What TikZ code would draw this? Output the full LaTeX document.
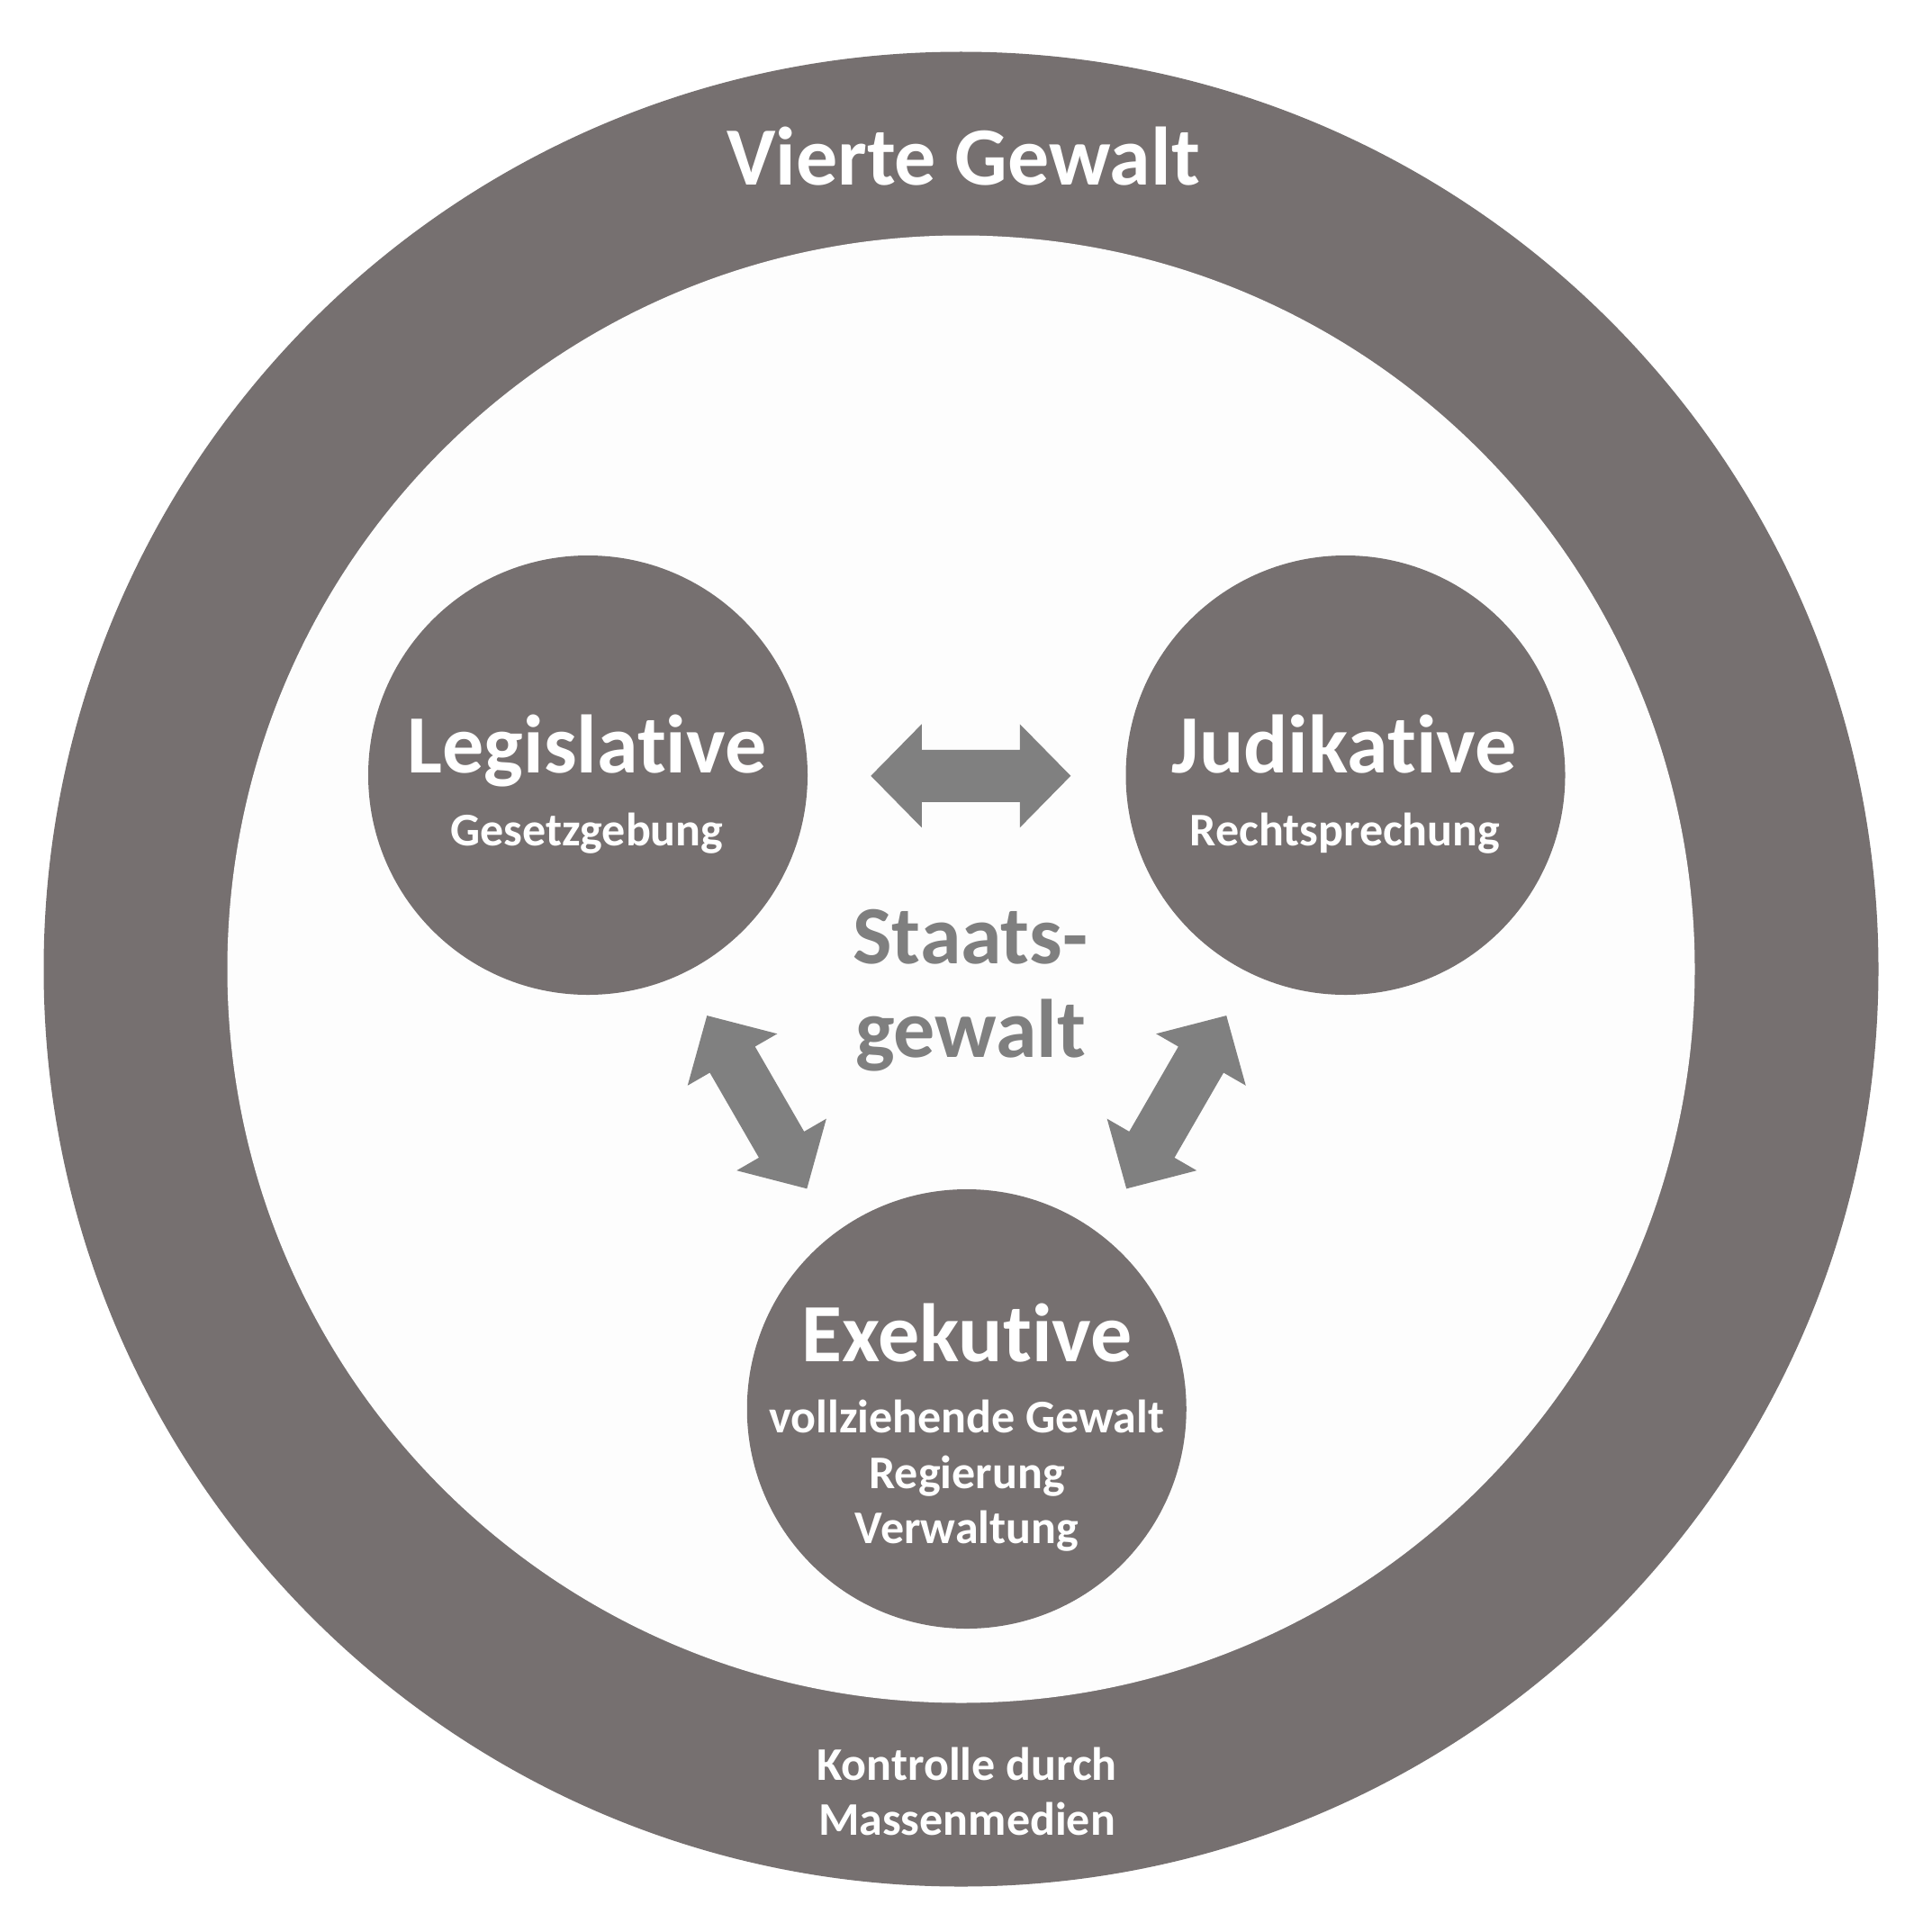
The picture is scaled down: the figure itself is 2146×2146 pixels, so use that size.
\documentclass[tikz,border=0pt]{standalone}
\usepackage{fontspec}
\setmainfont[Ligatures={NoCommon}]{Carlito}
\definecolor{ringgray}{RGB}{118,112,112}
\definecolor{arrowgray}{RGB}{128,128,128}
\definecolor{textgray}{RGB}{127,127,127}
\definecolor{innerwhite}{RGB}{253,253,253}
\tikzset{
  disc/.style={circle, fill=ringgray, inner sep=0pt, minimum size=#1},
  bigtext/.style={text=white, font=\fontsize{92}{104}\selectfont\bfseries, anchor=base, inner sep=0pt},
  smalltext/.style={text=white, font=\fontsize{52}{60}\selectfont\bfseries, anchor=base, inner sep=0pt},
  centertext/.style={text=textgray, font=\fontsize{92}{104}\selectfont\bfseries, anchor=base, inner sep=0pt},
  dblarrow/.pic={
    \fill[arrowgray] (-111,0) -- (-54.5,-57.5) -- (-54.5,-29) -- (54.5,-29) -- (54.5,-57.5)
      -- (111,0) -- (54.5,57.5) -- (54.5,29) -- (-54.5,29) -- (-54.5,57.5) -- cycle;
  }
}
\begin{document}
\begin{tikzpicture}[x=1pt,y=-1pt]
\useasboundingbox[fill=white] (0,0) rectangle (2146,2146);
% outer ring
\node[disc=2038pt] (ring) at (1067.5,1076.5) {};
\node[circle, fill=innerwhite, inner sep=0pt, minimum size=1630pt] (inner) at (1067.5,1076.5) {};
% three powers
\node[disc=488pt] (leg) at (653,861) {};
\node[disc=488pt] (jud) at (1494.5,861) {};
\node[disc=488pt] (exe) at (1073.75,1565) {};
% arrows
\coordinate (a1) at (1078.3,861.8);
\coordinate (a2) at (840.8,1224.2);
\coordinate (a3) at (1306.7,1224.2);
\pic at (a1) {dblarrow};
\pic[rotate=-60] at (a2) {dblarrow};
\pic[rotate=60] at (a3) {dblarrow};
% texts
\node[bigtext] (vierte) at (1070,206) {Vierte Gewalt};
\node[bigtext] (legT) at (652,858) {Legislative};
\node[smalltext] (legS) at (652,939) {Gesetzgebung};
\node[bigtext] (judT) at (1493,858) {Judikative};
\node[smalltext] (judS) at (1494,939) {Rechtsprechung};
\node[centertext] (st1) at (1078,1070) {Staats-};
\node[centertext] (st2) at (1078,1174) {gewalt};
\node[bigtext] (exeT) at (1074,1512) {Exekutive};
\node[smalltext] (exeS1) at (1074,1591) {vollziehende Gewalt};
\node[smalltext] (exeS2) at (1074,1653) {Regierung};
\node[smalltext] (exeS3) at (1074,1714) {Verwaltung};
\node[smalltext] (k1) at (1074,1977) {Kontrolle durch};
\node[smalltext] (k2) at (1074,2038) {Massenmedien};
\end{tikzpicture}
\end{document}
